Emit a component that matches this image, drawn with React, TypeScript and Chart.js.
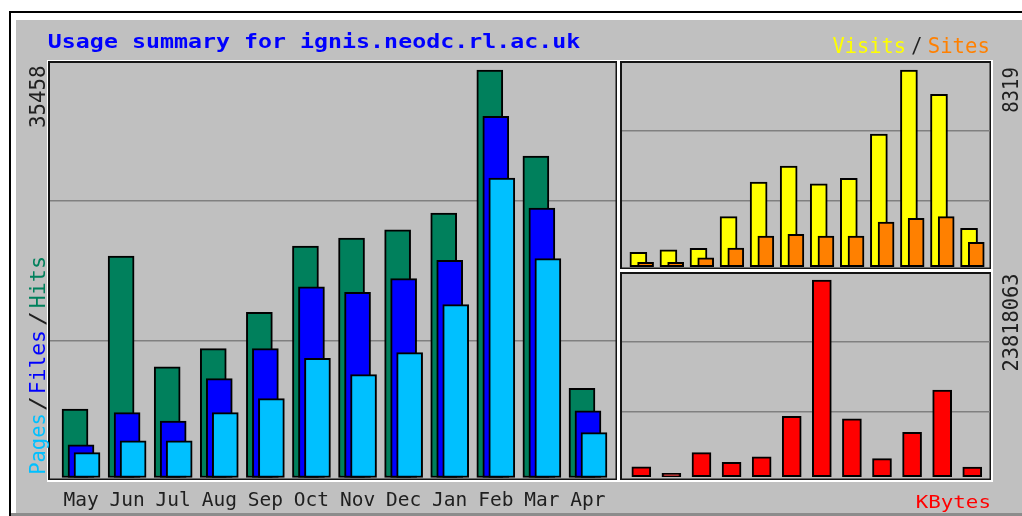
import React, { useEffect, useRef } from 'react';
import { Chart, registerables } from 'chart.js';

Chart.register(...registerables);

const months = ['May', 'Jun', 'Jul', 'Aug', 'Sep', 'Oct', 'Nov', 'Dec', 'Jan', 'Feb', 'Mar', 'Apr'];
const hits = [5960, 19270, 9640, 11210, 14370, 20140, 20840, 21540, 23010, 35458, 27970, 7760];
const files = [2850, 5640, 4920, 8600, 11210, 16600, 16110, 17300, 18900, 31430, 23450, 5810];
const pages = [2160, 3200, 3200, 5640, 6860, 10370, 8950, 10860, 15040, 26060, 19040, 3900];
const visits = [610, 710, 780, 2120, 3580, 4260, 3500, 3740, 5610, 8319, 7290, 1620];
const sites = [190, 190, 380, 790, 1300, 1370, 1300, 1300, 1890, 2050, 2120, 1030];
const kbytes = [1210000, 400000, 2910000, 1740000, 2420000, 7310000, 23818063, 7020000, 2180000, 5380000, 10500000, 1170000];

const W = 1022;
const H = 516;
const FONT = "'DejaVu Sans Mono', 'Liberation Mono', monospace";

const C_HITS = '#00805c';
const C_FILES = '#0000ff';
const C_PAGES = '#00c0ff';
const C_VISITS = '#ffff00';
const C_SITES = '#ff8000';
const C_KB = '#ff0000';
const C_GRID = '#808080';
const C_TEXT = '#202020';

function fitText(ctx: CanvasRenderingContext2D, text: string, color: string, len: number, cap: number, bold: boolean) {
  ctx.font = `${bold ? 'bold ' : ''}100px ${FONT}`;
  const m = ctx.measureText(text);
  const w = m.actualBoundingBoxLeft + m.actualBoundingBoxRight;
  const capRef = ctx.measureText('H').actualBoundingBoxAscent;
  ctx.scale(len / w, cap / capRef);
  ctx.fillStyle = color;
  ctx.textAlign = 'left';
  ctx.textBaseline = 'alphabetic';
  ctx.fillText(text, m.actualBoundingBoxLeft, 0);
}

function textH(ctx: CanvasRenderingContext2D, text: string, color: string, x0: number, x1: number, base: number, cap: number, bold = false) {
  ctx.save();
  ctx.translate(x0, base);
  fitText(ctx, text, color, x1 - x0, cap, bold);
  ctx.restore();
}

function textUp(ctx: CanvasRenderingContext2D, text: string, color: string, yStart: number, yEnd: number, baseX: number, cap: number, bold = false) {
  ctx.save();
  ctx.translate(baseX, yStart);
  ctx.rotate(-Math.PI / 2);
  fitText(ctx, text, color, yStart - yEnd, cap, bold);
  ctx.restore();
}

function frame(ctx: CanvasRenderingContext2D, x0: number, y0: number, x1: number, y1: number) {
  ctx.fillStyle = '#ffffff';
  ctx.fillRect(x0 - 1, y0 - 1, x1 - x0 + 2, 1);
  ctx.fillRect(x0 - 1, y0 - 1, 1, y1 - y0 + 2);
  ctx.fillRect(x1 - 1, y0, 2, y1 - y0 + 1);
  ctx.fillRect(x0, y1 - 1, x1 - x0 + 1, 2);
  ctx.fillStyle = '#141414';
  ctx.fillRect(x0, y0, x1 - x0 - 1, 2);
  ctx.fillRect(x0, y0, 2, y1 - y0 - 1);
  ctx.fillRect(x1 - 2.5, y0, 1.5, y1 - y0 - 1);
  ctx.fillRect(x0, y1 - 2.5, x1 - x0 - 1, 1.5);
}

const decor = {
  id: 'decor',
  beforeDraw(chart: any) {
    const ctx = chart.ctx as CanvasRenderingContext2D;
    ctx.save();
    ctx.fillStyle = '#ffffff';
    ctx.fillRect(0, 0, W, H);
    ctx.fillStyle = '#c0c0c0';
    ctx.fillRect(16, 20, W - 16, 493);
    ctx.fillStyle = '#8c8c8c';
    ctx.fillRect(11, 513, W - 11, 3);
    ctx.fillStyle = '#000000';
    ctx.fillRect(9, 11, W - 9, 2);
    ctx.fillRect(9, 11, 2, H - 11);
    ctx.restore();
  },
  afterDraw(chart: any) {
    const ctx = chart.ctx as CanvasRenderingContext2D;
    frame(ctx, 48, 61, 618, 481);
    frame(ctx, 620, 61, 992, 270);
    frame(ctx, 620, 272, 992, 481);
    textH(ctx, 'Usage summary for ignis.neodc.rl.ac.uk', '#0000ff', 49, 580, 48, 14.5, true);
    textH(ctx, 'Visits', C_VISITS, 833, 904, 53, 15);
    textH(ctx, '/', C_TEXT, 912, 921, 53, 15);
    textH(ctx, 'Sites', C_SITES, 929, 988, 53, 15);
    textH(ctx, 'KBytes', C_KB, 917, 989, 508, 13.5);
    textUp(ctx, String(Math.max(...hits)), C_TEXT, 126.7, 66.7, 45, 15);
    textUp(ctx, 'Pages', C_PAGES, 473, 415, 45, 15);
    textUp(ctx, '/', C_TEXT, 410, 398, 45, 15);
    textUp(ctx, 'Files', C_FILES, 392, 332, 45, 15);
    textUp(ctx, '/', C_TEXT, 325, 313, 45, 15);
    textUp(ctx, 'Hits', C_HITS, 307, 258, 45, 15);
    textUp(ctx, String(Math.max(...visits)), C_TEXT, 111.7, 68.3, 1018, 16);
    textUp(ctx, String(Math.max(...kbytes)), C_TEXT, 370, 275, 1018, 16);
  },
};

function thirds(s: any) {
  const a = s.min as number;
  const b = s.max as number;
  s.ticks = [{ value: a + (b - a) / 3 }, { value: a + (2 * (b - a)) / 3 }];
}

function yScale(min: number, max: number) {
  return {
    type: 'linear',
    min,
    max,
    afterBuildTicks: thirds,
    ticks: { display: false },
    grid: { color: C_GRID, lineWidth: 1.5, drawTicks: false },
    border: { display: false },
    afterFit: (s: any) => {
      s.width = 0;
    },
  };
}

const barBase = {
  borderColor: '#000000',
  borderWidth: 2,
  borderSkipped: false,
  grouped: false,
};

export default function App() {
  const r1 = useRef<HTMLCanvasElement>(null);
  const r2 = useRef<HTMLCanvasElement>(null);
  const r3 = useRef<HTMLCanvasElement>(null);

  useEffect(() => {
    const OFF = 0.1302;
    const main = new Chart(r1.current as HTMLCanvasElement, {
      type: 'bar',
      data: {
        datasets: [
          { ...barBase, label: 'Pages', data: pages.map((v, i) => ({ x: i + OFF, y: v })), backgroundColor: C_PAGES, barThickness: 26 },
          { ...barBase, label: 'Files', data: files.map((v, i) => ({ x: i, y: v })), backgroundColor: C_FILES, barThickness: 26 },
          { ...barBase, label: 'Hits', data: hits.map((v, i) => ({ x: i - OFF, y: v })), backgroundColor: C_HITS, barThickness: 26 },
        ] as any,
      },
      options: {
        responsive: false,
        animation: false,
        events: [],
        layout: { padding: { left: 50, top: 61, right: W - 616, bottom: 5 } },
        plugins: { legend: { display: false }, tooltip: { enabled: false } },
        scales: {
          x: {
            type: 'linear',
            offset: false,
            min: -0.673,
            max: 11.608,
            grid: { display: false, drawTicks: false, offset: false },
            border: { display: false },
            afterBuildTicks: (s: any) => {
              s.ticks = months.map((_, i) => ({ value: i }));
            },
            afterFit: (s: any) => {
              s.height = 30;
            },
            ticks: {
              callback: (v: any) => months[Math.round(Number(v))],
              font: { family: FONT, size: 19.5 },
              color: C_TEXT,
              padding: 8,
              maxRotation: 0,
              autoSkip: false,
            },
          },
          y: yScale(-304.5, 36241),
        } as any,
      },
      plugins: [decor],
    });

    const VO = 0.12;
    const upper = new Chart(r2.current as HTMLCanvasElement, {
      type: 'bar',
      data: {
        datasets: [
          { ...barBase, label: 'Sites', data: sites.map((v, i) => ({ x: i + VO, y: v })), backgroundColor: C_SITES, barThickness: 16 },
          { ...barBase, label: 'Visits', data: visits.map((v, i) => ({ x: i - VO, y: v })), backgroundColor: C_VISITS, barThickness: 17 },
        ] as any,
      },
      options: {
        responsive: false,
        animation: false,
        events: [],
        layout: { padding: { left: 622, top: 61, right: W - 990, bottom: H - 270 } },
        plugins: { legend: { display: false }, tooltip: { enabled: false } },
        scales: {
          x: { type: 'linear', offset: false, grid: { offset: false }, min: -0.665, max: 11.577, display: false },
          y: yScale(-139.6, 8699.6),
        } as any,
      },
    });

    const lower = new Chart(r3.current as HTMLCanvasElement, {
      type: 'bar',
      data: {
        datasets: [
          { ...barBase, label: 'KBytes', data: kbytes.map((v, i) => ({ x: i, y: v })), backgroundColor: C_KB, barThickness: 19 },
        ] as any,
      },
      options: {
        responsive: false,
        animation: false,
        events: [],
        layout: { padding: { left: 622, top: 272, right: W - 990, bottom: H - 481 } },
        plugins: { legend: { display: false }, tooltip: { enabled: false } },
        scales: {
          x: { type: 'linear', offset: false, grid: { offset: false }, min: -0.642, max: 11.59, display: false },
          y: yScale(-520678, 24786767),
        } as any,
      },
    });

    return () => {
      main.destroy();
      upper.destroy();
      lower.destroy();
    };
  }, []);

  const cs: React.CSSProperties = { position: 'absolute', left: 0, top: 0, width: W, height: H };
  return (
    <div style={{ position: 'absolute', left: 0, top: 0, width: W, height: H, background: '#ffffff' }}>
      <canvas ref={r1} width={W} height={H} style={cs} />
      <canvas ref={r2} width={W} height={H} style={cs} />
      <canvas ref={r3} width={W} height={H} style={cs} />
    </div>
  );
}
